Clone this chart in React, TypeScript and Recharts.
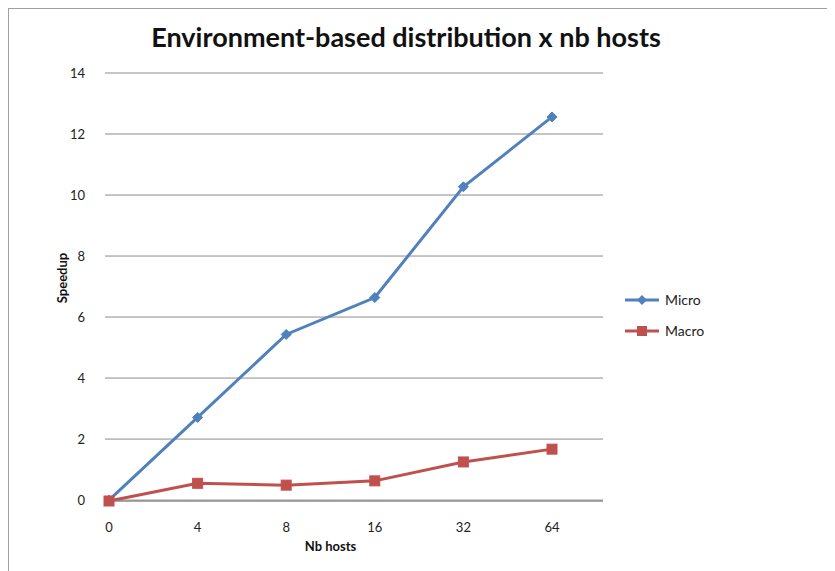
import React from "react";
import { LineChart, Line, XAxis, YAxis, CartesianGrid, Legend, Label } from "recharts";

const hosts = ["0", "4", "8", "16", "32", "64"];
const micro = [0, 2.71, 5.43, 6.64, 10.27, 12.56];
const macro = [-0.03, 0.55, 0.49, 0.63, 1.25, 1.67];
const yTicks = [0, 2, 4, 6, 8, 10, 12, 14];
const seriesOrder = ["Micro", "Macro"];

const data = hosts.map((h, i) => ({ host: h, Micro: micro[i], Macro: macro[i] }));

const BLUE = "#4F81BD";
const RED = "#C0504D";
const FONT = "Lato, 'Open Sans', sans-serif";
const LABEL_STYLE = { fontFamily: FONT, fontWeight: 700, fontSize: 13, fill: "#111" };

const Diamond = (props: any) => {
  const { cx, cy } = props;
  if (cx == null || cy == null) return null;
  const r = 5;
  return <path d={`M${cx},${cy - r}L${cx + r},${cy}L${cx},${cy + r}L${cx - r},${cy}Z`} fill={BLUE} stroke={BLUE} />;
};

const Square = (props: any) => {
  const { cx, cy } = props;
  if (cx == null || cy == null) return null;
  const s = 5;
  return <rect x={cx - s} y={cy - s} width={2 * s} height={2 * s} fill={RED} stroke={RED} />;
};

const LegendContent = (props: any) => {
  const payload = [...(props.payload || [])].sort(
    (a: any, b: any) => seriesOrder.indexOf(a.value) - seriesOrder.indexOf(b.value)
  );
  return (
    <div style={{ fontFamily: FONT, fontSize: 14, color: "#222" }}>
      {payload.map((p: any) => (
        <div key={p.value} style={{ display: "flex", alignItems: "center", height: 31 }}>
          <svg width={36} height={12} style={{ marginRight: 4 }}>
            <line x1={0} y1={6} x2={34} y2={6} stroke={p.color} strokeWidth={3} />
            {p.value === "Micro" ? (
              <path d="M17,1L22,6L17,11L12,6Z" fill={p.color} />
            ) : (
              <rect x={12} y={1} width={10} height={10} fill={p.color} />
            )}
          </svg>
          <span>{p.value}</span>
        </div>
      ))}
    </div>
  );
};

const XTitle = (props: any) => {
  const vb = props.viewBox || {};
  const x = vb.x + 4 + (vb.width - 55) / 2;
  const y = vb.y + 45;
  return (
    <text x={x} y={y} textAnchor="middle" dominantBaseline="central" style={LABEL_STYLE}>
      Nb hosts
    </text>
  );
};

const YTitle = (props: any) => {
  const vb = props.viewBox || {};
  const x = vb.x + 53;
  const y = vb.y + vb.height / 2 - 9;
  return (
    <text
      x={x}
      y={y}
      textAnchor="middle"
      dominantBaseline="central"
      transform={`rotate(-90, ${x}, ${y})`}
      style={LABEL_STYLE}
    >
      Speedup
    </text>
  );
};

export default function App() {
  return (
    <div
      style={{
        position: "relative",
        width: 835,
        height: 570,
        borderTop: "1px solid #a0a0a0",
        borderLeft: "1px solid #a0a0a0",
        background: "#fff",
      }}
    >
      <div
        style={{
          position: "absolute",
          left: 0,
          width: 794,
          top: 11,
          textAlign: "center",
          fontFamily: FONT,
          fontWeight: 700,
          fontSize: 27,
          color: "#111",
          zIndex: 2,
        }}
      >
        Environment-based distribution x nb hosts
      </div>
      <LineChart
        width={826}
        height={562}
        data={data}
        margin={{ top: 64, right: 232, bottom: 0, left: 0 }}
      >
        <CartesianGrid vertical={false} stroke="#8c8c8c" strokeWidth={1} />
        <XAxis
          dataKey="host"
          padding={{ left: 4, right: 51 }}
          axisLine={{ stroke: "#8c8c8c" }}
          tickLine={false}
          tickMargin={16}
          tick={{ fill: "#222", fontSize: 13, fontFamily: FONT }}
          height={70}
        >
          <Label content={<XTitle />} />
        </XAxis>
        <YAxis
          domain={[0, 14]}
          ticks={yTicks}
          width={96}
          axisLine={false}
          tickLine={false}
          tickMargin={14}
          tick={{ fill: "#222", fontSize: 13, fontFamily: FONT }}
        >
          <Label content={<YTitle />} />
        </YAxis>
        <Legend
          layout="vertical"
          verticalAlign="middle"
          align="center"
          content={<LegendContent />}
          wrapperStyle={{ left: 616, top: 275, width: 120 }}
        />
        <Line
          type="linear"
          dataKey="Micro"
          stroke={BLUE}
          strokeWidth={3}
          dot={<Diamond />}
          activeDot={false}
          isAnimationActive={false}
        />
        <Line
          type="linear"
          dataKey="Macro"
          stroke={RED}
          strokeWidth={3}
          dot={<Square />}
          activeDot={false}
          isAnimationActive={false}
        />
      </LineChart>
    </div>
  );
}
